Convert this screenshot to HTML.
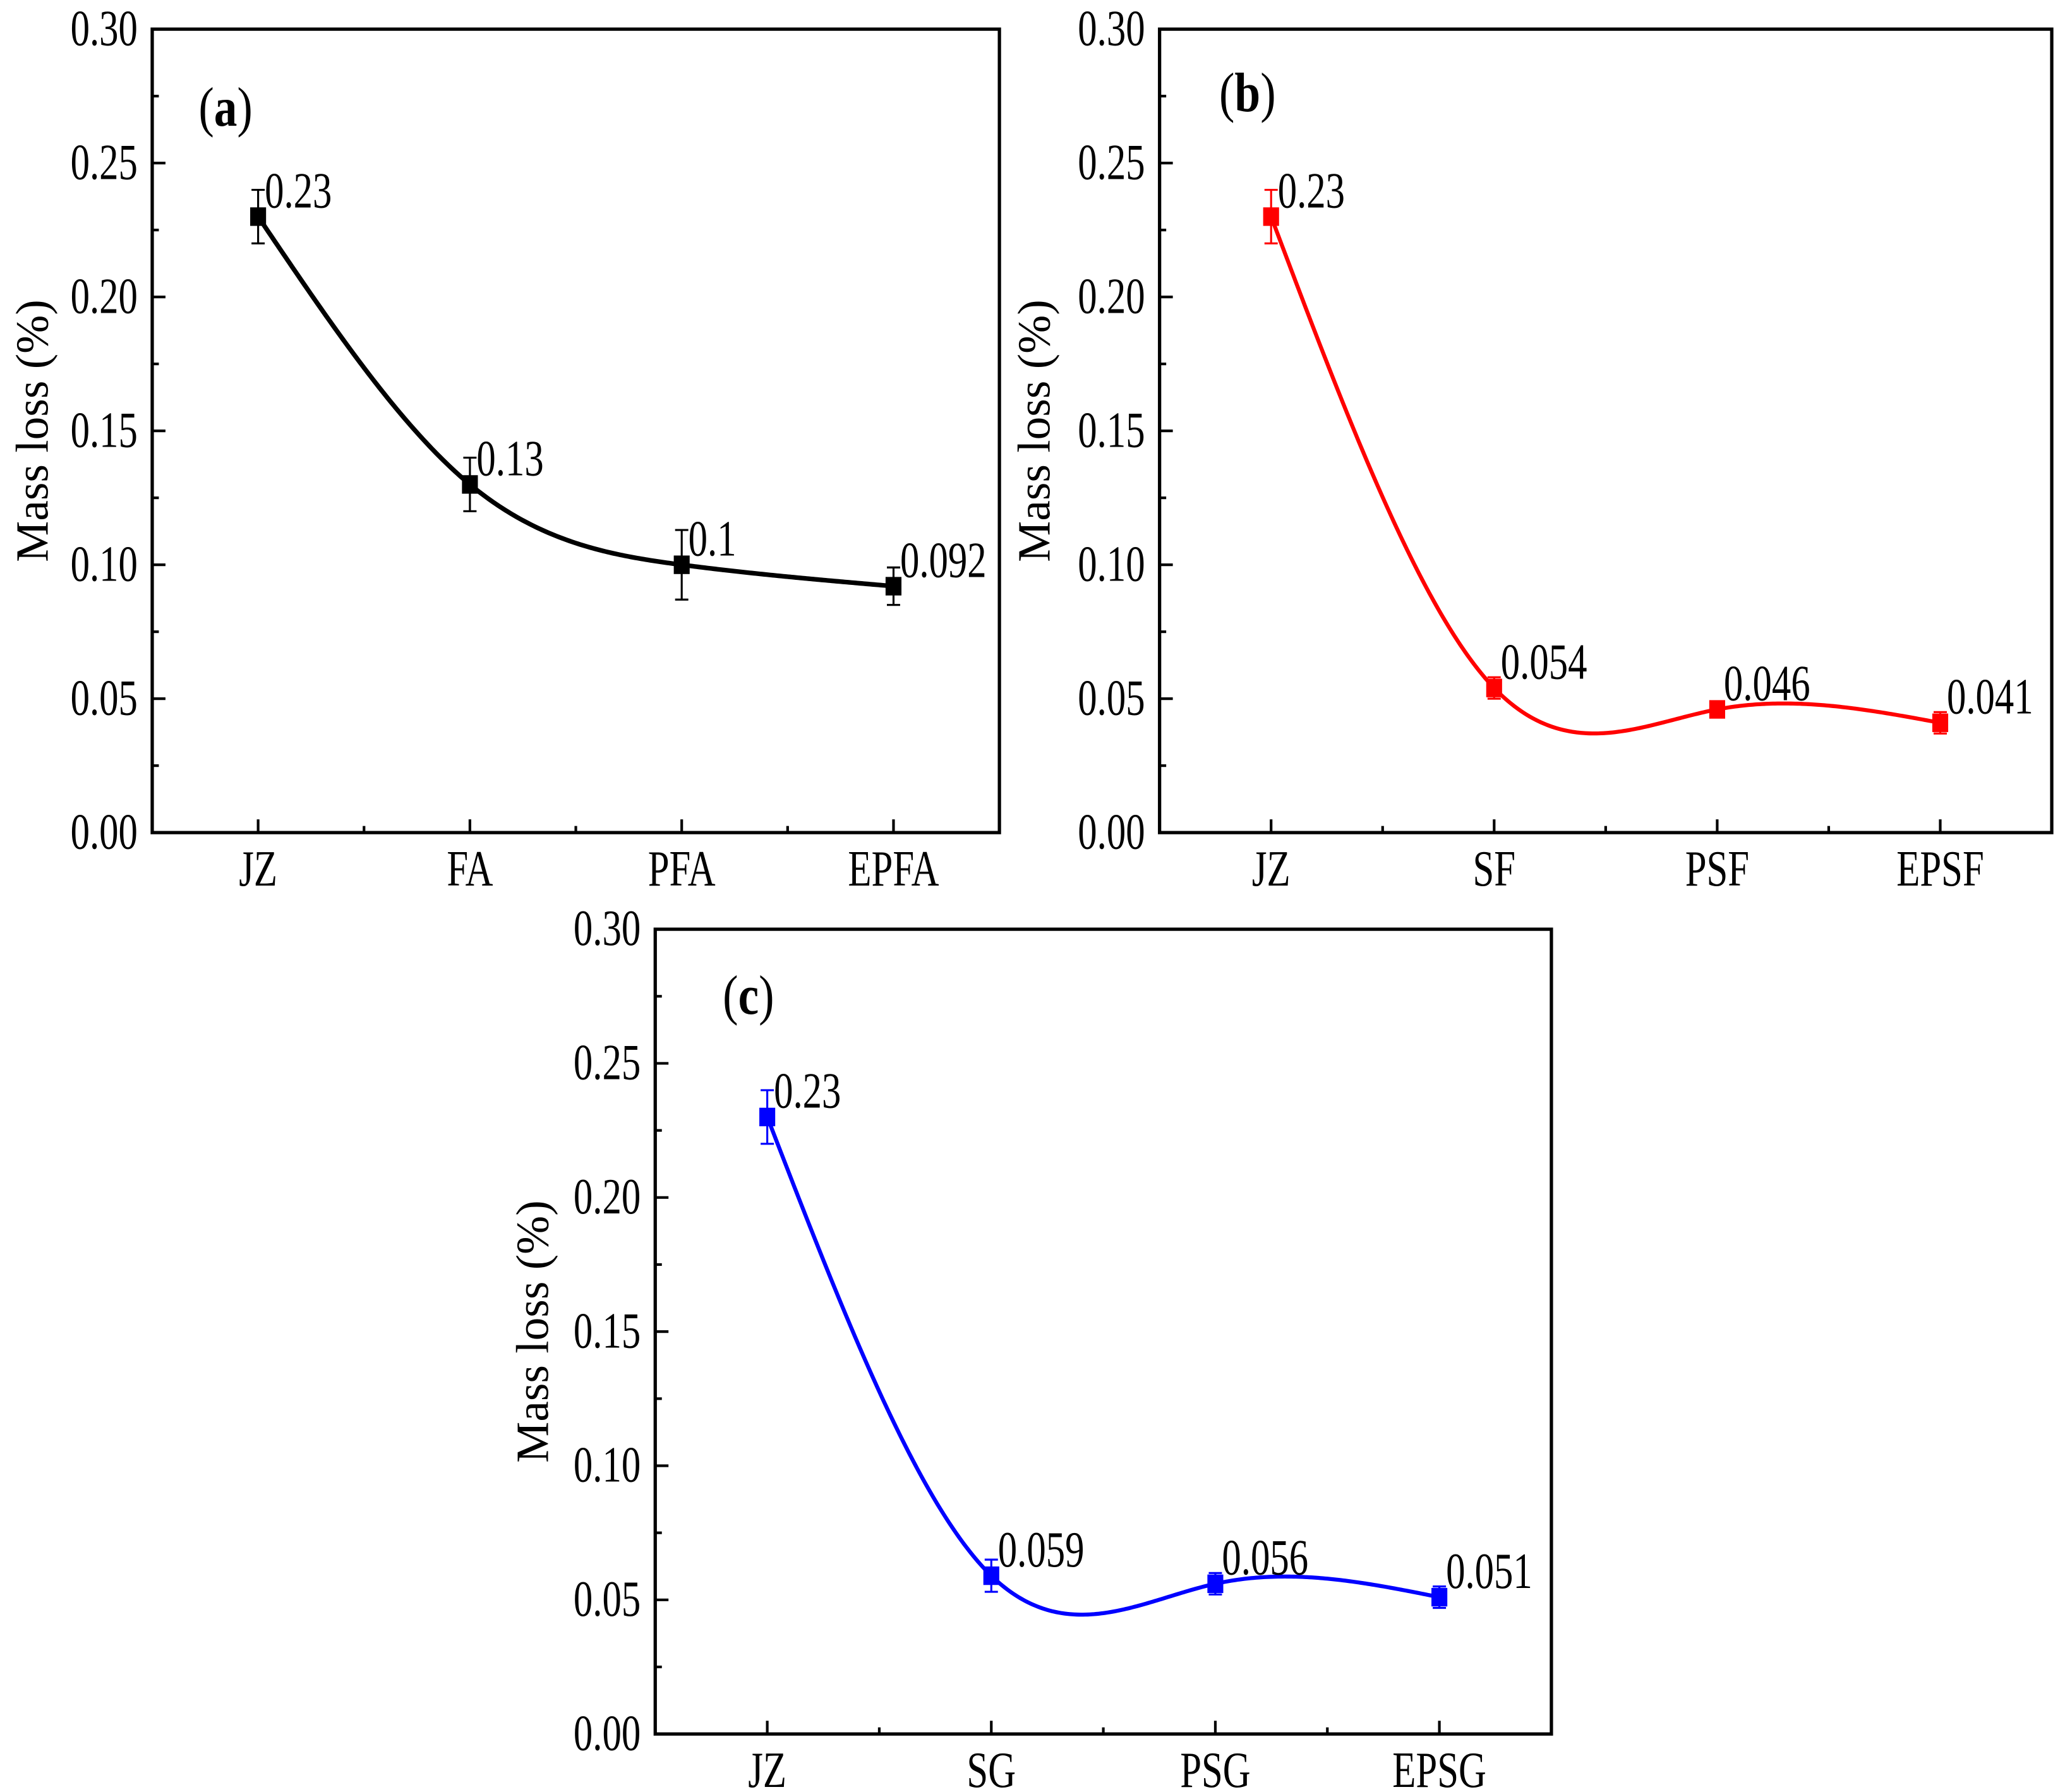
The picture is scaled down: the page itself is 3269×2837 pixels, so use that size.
<!DOCTYPE html>
<html><head><meta charset="utf-8"><style>
html,body{margin:0;padding:0;background:#fff}
svg{display:block}
text{font-family:"Liberation Serif",serif;fill:#000}
</style></head><body>
<svg id="fig" xmlns="http://www.w3.org/2000/svg" width="3269" height="2837" viewBox="0 0 1560 1353.8"></svg>
<script>
const catsA = ["JZ","FA","PFA","EPFA"];
const valsA = [0.23,0.13,0.1,0.092];
const errsA = [0.01,0.01,0.013,0.007];
const labsA = ["0.23","0.13","0.1","0.092"];
const catsB = ["JZ","SF","PSF","EPSF"];
const valsB = [0.23,0.054,0.046,0.041];
const errsB = [0.01,0.004,0.003,0.004];
const labsB = ["0.23","0.054","0.046","0.041"];
const catsC = ["JZ","SG","PSG","EPSG"];
const valsC = [0.23,0.059,0.056,0.051];
const errsC = [0.01,0.006,0.004,0.004];
const labsC = ["0.23","0.059","0.056","0.051"];
const yTicks = [0,0.05,0.1,0.15,0.2,0.25,0.3];
const yTickLabels = ["0.00","0.05","0.10","0.15","0.20","0.25","0.30"];

const NS="http://www.w3.org/2000/svg";
const svg=document.getElementById('fig');
function mk(tag,attrs,parent){const e=document.createElementNS(NS,tag);for(const k in attrs)e.setAttribute(k,attrs[k]);(parent||svg).appendChild(e);return e;}
function txt(str,x,y,size,anchor,parent,extra){
  const t=mk('text',{transform:`translate(${x},${y}) ${extra||''}`,'font-size':size,'text-anchor':anchor||'start'},parent);
  t.textContent=str;return t;
}
function spline(xs,ys){
  const n=xs.length,h=[],al=[],l=[1],mu=[0],z=[0],c=new Array(n).fill(0),b=[],d=[];
  for(let i=0;i<n-1;i++)h.push(xs[i+1]-xs[i]);
  for(let i=1;i<n-1;i++)al[i]=3/h[i]*(ys[i+1]-ys[i])-3/h[i-1]*(ys[i]-ys[i-1]);
  for(let i=1;i<n-1;i++){l[i]=2*(xs[i+1]-xs[i-1])-h[i-1]*mu[i-1];mu[i]=h[i]/l[i];z[i]=(al[i]-h[i-1]*z[i-1])/l[i];}
  for(let j=n-2;j>=0;j--){c[j]=z[j]-mu[j]*c[j+1];b[j]=(ys[j+1]-ys[j])/h[j]-h[j]*(c[j+1]+2*c[j])/3;d[j]=(c[j+1]-c[j])/(3*h[j]);}
  return t=>{let j=Math.min(n-2,Math.max(0,Math.floor(t)));const dx=t-xs[j];return ys[j]+b[j]*dx+c[j]*dx*dx+d[j]*dx*dx*dx;};
}
const SY='scale(1,1.32)';
function panel(name,L,R,T,B,cats,vals,errs,labs,color,lw,tag,tagX,tagY,titleX){
  const g=mk('g',{});
  
  
  const sx=i=>L+(R-L)*(i+0.5)/cats.length;
  const sy=v=>B-(B-T)*v/0.3;
  for(let k=0;k<=12;k++){const v=k*0.025,y=sy(v);const len=k%2==0?10:5;
    const tk=mk('line',{x1:L,x2:L+len,y1:y,y2:y,stroke:'#000','stroke-width':2},g);
    
    }
  yTicks.forEach((v,i)=>{const t=txt(yTickLabels[i],L-11,sy(v)+12,29,'end',g,SY);
    
    });
  cats.forEach((c,i)=>{
    const x=sx(i);
    const tk=mk('line',{x1:x,x2:x,y1:B,y2:B-10,stroke:'#000','stroke-width':2},g);
    
    
    if(i<cats.length-1){const xm=(sx(i)+sx(i+1))/2;const m=mk('line',{x1:xm,x2:xm,y1:B,y2:B-5,stroke:'#000','stroke-width':2},g);
      
      }
    const t=txt(c,x,B+40,29,'middle',g,SY);
    
    
  });
  const f=mk('rect',{x:L,y:T,width:R-L,height:B-T,fill:'none',stroke:'#000','stroke-width':2.5},g);
  
  
  const xs=cats.map((c,i)=>i);const s=spline(xs,vals);
  let d='';for(let k=0;k<=300;k++){const t=k/300*(cats.length-1);d+=(k?'L':'M')+(L+(R-L)*(t+0.5)/cats.length).toFixed(2)+','+sy(s(t)).toFixed(2);}
  const p=mk('path',{d:d,fill:'none',stroke:color,'stroke-width':lw},g);
  
  
  vals.forEach((v,i)=>{
    const x=sx(i),y=sy(v),e=errs[i];
    const eb=mk('path',{d:`M${x},${sy(v+e)}V${sy(v-e)}M${x-5},${sy(v+e)}H${x+5}M${x-5},${sy(v-e)}H${x+5}`,stroke:color,'stroke-width':1.5,fill:'none'},g);
    
    
    const m=mk('rect',{x:x-6,y:y-7,width:12,height:14,fill:color},g);
    
    
    const t=txt(labs[i],x+5,y-7,29,'start',g,SY);
    
    
  });
  const tg=mk('text',{transform:`translate(${tagX},${tagY}) scale(1,1.2)`,'font-size':35},g);
  tg.innerHTML='(<tspan font-weight="bold">'+tag+'</tspan>)';
  
  
  const yt=txt('Mass loss (%)',titleX,(T+B)/2,35,'middle',g,'rotate(-90)');
  
  
}
panel('panel-a',115,755,22,629,catsA,valsA,errsA,labsA,'#000',3.5,'a',150,95,36);
panel('panel-b',876,1550,22,629,catsB,valsB,errsB,labsB,'#ff0000',3,'b',921,84,793);
panel('panel-c',495,1172,702,1310,catsC,valsC,errsC,labsC,'#0000ff',3,'c',546,766,414);
</script>
</body></html>
